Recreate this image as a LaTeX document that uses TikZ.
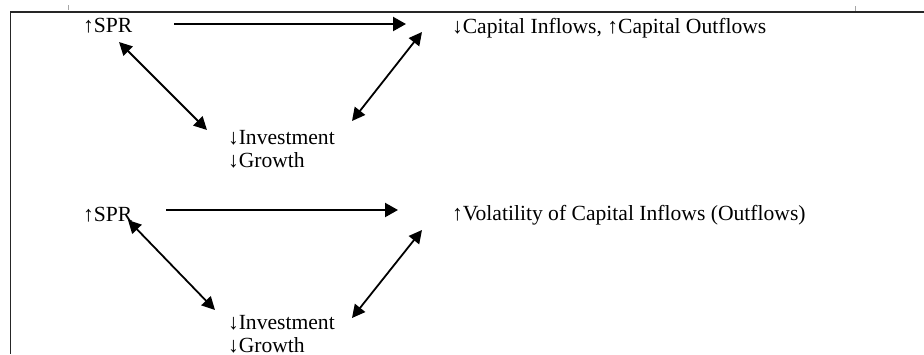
\documentclass[tikz,border=0pt]{standalone}
\usepackage{fontspec}
\setmainfont{Liberation Serif}
\usetikzlibrary{arrows.meta}
\tikzset{
  lbl/.style={inner sep=0pt, outer sep=0pt, anchor=base west, align=left,
              font=\fontsize{21.6}{22.5}\selectfont},
  mainarrow/.style={line width=2.2pt, -{Triangle[length=13pt,width=14pt]}},
  dblarrow/.style={line width=1.8pt, {Triangle[length=13pt,width=13pt]}-{Triangle[length=13pt,width=13pt]}},
  frame/.style={line width=1.5pt, black!85},
  tick/.style={line width=0.6pt, black!35}
}
\begin{document}
\begin{tikzpicture}[x=1pt,y=-1pt]
\useasboundingbox (0,0) rectangle (924,354);
% frame
\draw[frame] (924,12) -- (10.5,12) -- (10.5,354);
\draw[tick] (68,5) -- (68,10);
\draw[tick] (855,6) -- (855,11);

% upper panel
\node[lbl] (spr1) at (83,32) {↑SPR};
\node[lbl] (cap1) at (452,33) {↓Capital Inflows, ↑Capital Outflows};
\node[lbl] (inv1) at (228,167) {↓Investment\\↓Growth};
\coordinate (a1s) at (174,24);
\coordinate (a1e) at (406,24);
\coordinate (b1s) at (119,42);
\coordinate (b1e) at (207,130);
\coordinate (c1s) at (422,32);
\coordinate (c1e) at (352,121);
\draw[mainarrow] (a1s) -- (a1e);
\draw[dblarrow] (b1s) -- (b1e);
\draw[dblarrow] (c1s) -- (c1e);

% lower panel
\node[lbl] (spr2) at (83,221) {↑SPR};
\node[lbl] (vol2) at (452,220) {↑Volatility of Capital Inflows (Outflows)};
\node[lbl] (inv2) at (228,352) {↓Investment\\↓Growth};
\coordinate (a2s) at (166,210);
\coordinate (a2e) at (398,210);
\coordinate (b2s) at (128,220);
\coordinate (b2e) at (215,310);
\coordinate (c2s) at (422,230);
\coordinate (c2e) at (352,318);
\draw[mainarrow] (a2s) -- (a2e);
\draw[dblarrow] (b2s) -- (b2e);
\draw[dblarrow] (c2s) -- (c2e);
\end{tikzpicture}
\end{document}
